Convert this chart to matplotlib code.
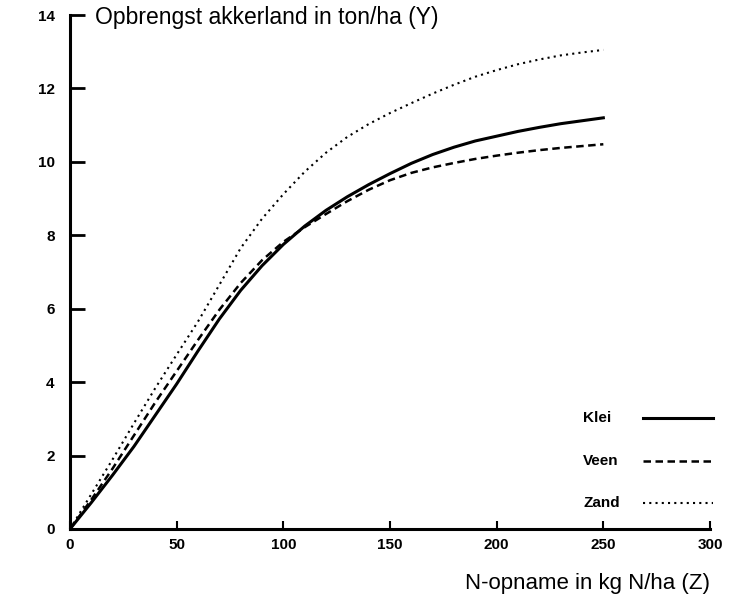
import matplotlib.pyplot as plt
import numpy as np

plt.rcParams['font.family'] = ['Liberation Sans', 'DejaVu Sans']

# N-opname (kg N/ha) en opbrengst (ton/ha) per grondsoort
n_opname = [0, 10, 20, 30, 40, 50, 60, 70, 80, 90, 100, 110, 120, 130,
            140, 150, 160, 170, 180, 190, 200, 210, 220, 230, 240, 250]
klei = [0, 0.72, 1.47, 2.25, 3.1, 3.95, 4.85, 5.72, 6.5, 7.17, 7.75, 8.25,
        8.68, 9.05, 9.38, 9.68, 9.96, 10.2, 10.4, 10.57, 10.7, 10.83, 10.94,
        11.04, 11.12, 11.2]
veen = [0, 0.8, 1.65, 2.55, 3.45, 4.3, 5.15, 5.97, 6.7, 7.32, 7.82, 8.22,
        8.58, 8.93, 9.24, 9.5, 9.7, 9.85, 9.97, 10.08, 10.17, 10.25, 10.32,
        10.38, 10.43, 10.48]
zand = [0, 0.95, 1.9, 2.88, 3.84, 4.75, 5.65, 6.65, 7.65, 8.45, 9.12, 9.73,
        10.25, 10.68, 11.03, 11.33, 11.6, 11.86, 12.1, 12.32, 12.5, 12.66,
        12.79, 12.9, 12.98, 13.05]

xticks = [0, 50, 100, 150, 200, 250, 300]
yticks = [0, 2, 4, 6, 8, 10, 12, 14]

fig = plt.figure(figsize=(7.3, 5.99), dpi=100)
ax = fig.add_axes([0.0959, 0.1169, 0.8767, 0.858])

series = [
    ('Klei', klei, dict(lw=2.2, linestyle='-')),
    ('Veen', veen, dict(lw=1.8, linestyle=(0, (3, 1.8)))),
    ('Zand', zand, dict(lw=1.5, linestyle=(0, (1, 2)))),
]
for name, y, style in series:
    ax.plot(n_opname, y, color='black', **style)

# legenda rechtsonder: naam links, lijnstuk rechts
key_rows = [0.216, 0.132, 0.051]
for (name, y, style), ky in zip(series, key_rows):
    ax.text(0.802, ky, name, transform=ax.transAxes, ha='left', va='center',
            fontsize=11, fontweight='bold')
    ax.plot([0.895, 1.005], [ky, ky], transform=ax.transAxes, color='black',
            clip_on=False, **style)

ax.set_xlim(0, 300)
ax.set_ylim(0, 14)
ax.set_xticks(xticks)
ax.set_yticks(yticks)

for side in ['top', 'right']:
    ax.spines[side].set_visible(False)
for side in ['left', 'bottom']:
    ax.spines[side].set_linewidth(2.2)

ax.tick_params(axis='y', direction='in', length=11, width=2, pad=11)
ax.tick_params(axis='x', direction='in', length=6, width=1.5, pad=6.5)
for lab in ax.get_xticklabels() + ax.get_yticklabels():
    lab.set_fontweight('bold')
    lab.set_fontsize(11)

ax.text(0.039, 0.995, 'Opbrengst akkerland in ton/ha (Y)', transform=ax.transAxes,
        ha='left', va='center', fontsize=16.5)
ax.set_xlabel('N-opname in kg N/ha (Z)', loc='right', fontsize=16, labelpad=15)

fig.savefig('out.png', dpi=100)
